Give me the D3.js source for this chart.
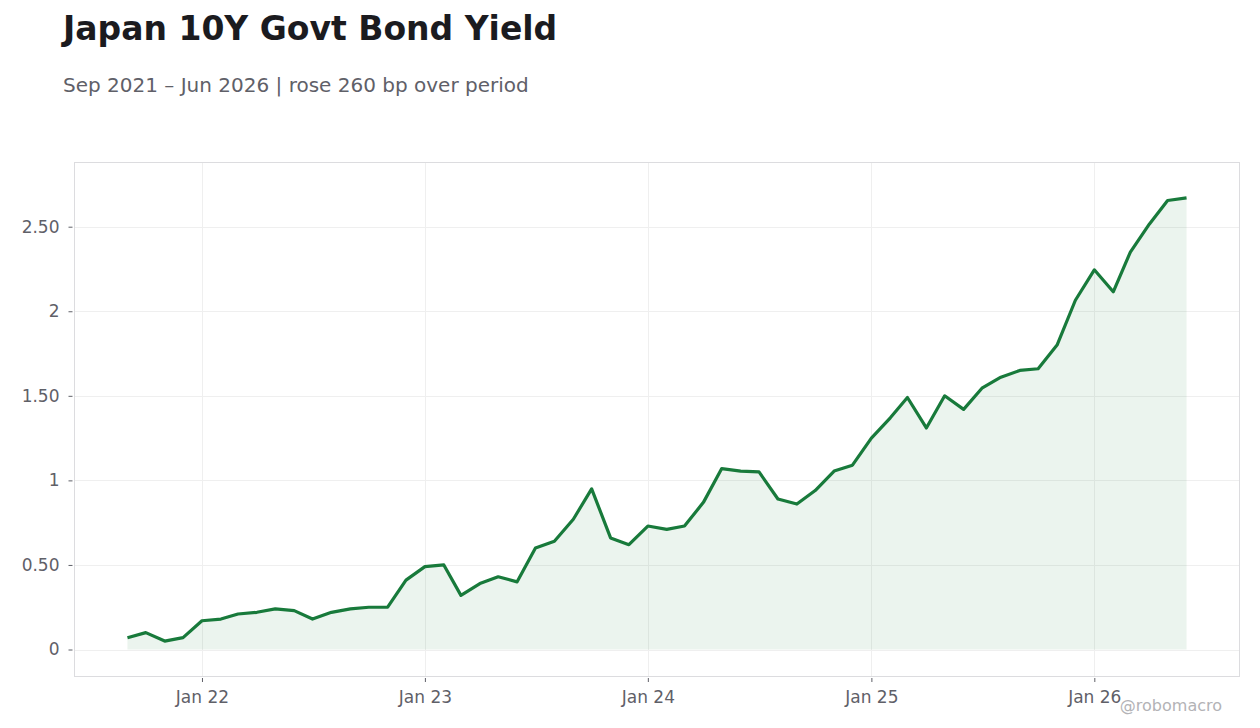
<!DOCTYPE html>
<html>
<head>
<meta charset="utf-8">
<script src="https://cdn.jsdelivr.net/npm/d3@7"></script>
<style>
  body { margin: 0; background: #fff; }
  svg { display: block; font-family: "DejaVu Sans", sans-serif; }
</style>
</head>
<body>
<svg id="chart" width="1260" height="728"></svg>
<script>
// monthly observations, Sep 2021 - Jun 2026
const months = [
  "2021-09","2021-10","2021-11","2021-12",
  "2022-01","2022-02","2022-03","2022-04","2022-05","2022-06","2022-07","2022-08","2022-09","2022-10","2022-11","2022-12",
  "2023-01","2023-02","2023-03","2023-04","2023-05","2023-06","2023-07","2023-08","2023-09","2023-10","2023-11","2023-12",
  "2024-01","2024-02","2024-03","2024-04","2024-05","2024-06","2024-07","2024-08","2024-09","2024-10","2024-11","2024-12",
  "2025-01","2025-02","2025-03","2025-04","2025-05","2025-06","2025-07","2025-08","2025-09","2025-10","2025-11","2025-12",
  "2026-01","2026-02","2026-03","2026-04","2026-05","2026-06"
];
const yields = [
  0.07, 0.10, 0.05, 0.07,
  0.17, 0.18, 0.21, 0.22, 0.24, 0.23, 0.18, 0.22, 0.24, 0.25, 0.25, 0.41,
  0.49, 0.50, 0.32, 0.39, 0.43, 0.40, 0.60, 0.64, 0.77, 0.95, 0.66, 0.62,
  0.73, 0.71, 0.73, 0.87, 1.07, 1.055, 1.05, 0.89, 0.86, 0.94, 1.055, 1.09,
  1.25, 1.37, 1.49, 1.31, 1.50, 1.42, 1.545, 1.61, 1.65, 1.66, 1.80, 2.065,
  2.245, 2.115, 2.35, 2.515, 2.655, 2.67
];
const yTicks = [0, 0.5, 1, 1.5, 2, 2.5];
const xTicks = ["2022-01", "2023-01", "2024-01", "2025-01", "2026-01"];

const title = "Japan 10Y Govt Bond Yield";
const subtitle = "Sep 2021 \u2013 Jun 2026 | rose 260 bp over period";
const credit = "@robomacro";

const parseMonth = d3.timeParse("%Y-%m");
const data = months.map((m, i) => ({ date: parseMonth(m), value: yields[i] }));

const svg = d3.select("#chart");
const plot = { left: 74.5, right: 1239.5, top: 162.5, bottom: 676.5 };

const t0 = data[0].date, t1 = data[data.length - 1].date;
const tPad = (t1 - t0) * 0.05;
const x = d3.scaleTime()
    .domain([new Date(+t0 - tPad), new Date(+t1 + tPad)])
    .range([plot.left, plot.right]);

const vMin = d3.min(yields), vMax = d3.max(yields);
const vPad = (vMax - vMin) * 0.08;
const y = d3.scaleLinear()
    .domain([vMin - vPad, vMax + vPad])
    .range([plot.bottom, plot.top]);

const fmtY = v => Number.isInteger(v) ? String(v) : v.toFixed(2);
const textCol = "#5f6068";
const green = "#187a3b";

// titles
svg.append("text")
    .attr("x", 63).attr("y", 40)
    .attr("font-size", 33).attr("font-weight", "bold")
    .attr("fill", "#1b1b1f")
    .text(title);

svg.append("text")
    .attr("x", 63).attr("y", 92)
    .attr("font-size", 20)
    .attr("fill", textCol)
    .text(subtitle);

// grid
const grid = svg.append("g");
grid.selectAll(".gy")
    .data(yTicks)
    .enter().append("line")
    .attr("x1", plot.left).attr("x2", plot.right)
    .attr("y1", d => Math.round(y(d)) + 0.5).attr("y2", d => Math.round(y(d)) + 0.5)
    .attr("stroke", "#efefef");
grid.selectAll(".gx")
    .data(xTicks)
    .enter().append("line")
    .attr("x1", d => Math.round(x(parseMonth(d))) + 0.5).attr("x2", d => Math.round(x(parseMonth(d))) + 0.5)
    .attr("y1", plot.top).attr("y2", plot.bottom)
    .attr("stroke", "#efefef");

// area + line
svg.append("path")
    .datum(data)
    .attr("fill", green)
    .attr("fill-opacity", 0.085)
    .attr("d", d3.area()
        .x(d => x(d.date))
        .y0(y(0))
        .y1(d => y(d.value)));

svg.append("path")
    .datum(data)
    .attr("fill", "none")
    .attr("stroke", green)
    .attr("stroke-width", 3.2)
    .attr("stroke-linejoin", "round")
    .attr("d", d3.line()
        .x(d => x(d.date))
        .y(d => y(d.value)));

// frame
svg.append("rect")
    .attr("x", plot.left).attr("y", plot.top)
    .attr("width", plot.right - plot.left)
    .attr("height", plot.bottom - plot.top)
    .attr("fill", "none")
    .attr("stroke", "#dcdcdf");

// axes
const yAxis = svg.append("g")
    .attr("transform", "translate(" + (plot.left - 2) + ",0)")
    .call(d3.axisLeft(y).tickValues(yTicks).tickFormat(fmtY).tickSize(4).tickPadding(9));
const xAxis = svg.append("g")
    .attr("transform", "translate(0," + (plot.bottom + 1.5) + ")")
    .call(d3.axisBottom(x).tickValues(xTicks.map(parseMonth))
        .tickFormat(d3.timeFormat("Jan %y")).tickSize(4).tickPadding(9));

[yAxis, xAxis].forEach(g => {
    g.select(".domain").remove();
    g.selectAll(".tick line").attr("stroke", textCol);
    g.selectAll(".tick text")
        .attr("fill", textCol)
        .attr("font-size", 17)
        .attr("font-family", "DejaVu Sans, sans-serif");
});

// credit
svg.append("text")
    .attr("x", 1222).attr("y", 711)
    .attr("text-anchor", "end")
    .attr("font-size", 16)
    .attr("fill", "#b3b3b6")
    .text(credit);
</script>
</body>
</html>
